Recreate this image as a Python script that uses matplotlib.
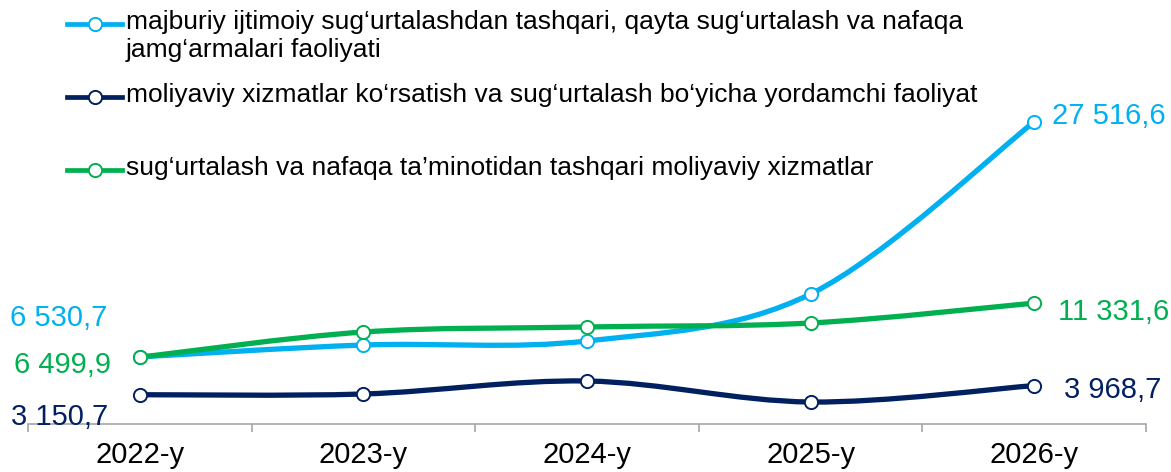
import matplotlib
matplotlib.use("Agg")
import matplotlib.pyplot as plt
from matplotlib.path import Path
from matplotlib.patches import PathPatch
from matplotlib.lines import Line2D

plt.rcParams['font.family'] = ['Liberation Sans', 'DejaVu Sans']

# data
years = ["2022-y", "2023-y", "2024-y", "2025-y", "2026-y"]
majburiy = [6530.7, 7590.0, 7950.0, 12145.0, 27516.6]
yordamchi = [3150.7, 3215.0, 4375.0, 2500.0, 3968.7]
nafaqa = [6499.9, 8750.0, 9200.0, 9555.0, 11331.6]

labels = [
    "majburiy ijtimoiy sug\u2018urtalashdan tashqari, qayta sug\u2018urtalash va nafaqa\njamg\u2018armalari faoliyati",
    "moliyaviy xizmatlar ko\u2018rsatish va sug\u2018urtalash bo\u2018yicha yordamchi faoliyat",
    "sug\u2018urtalash va nafaqa ta\u2019minotidan tashqari moliyaviy xizmatlar",
]
colors = ["#00B0F0", "#002060", "#00B050"]

W, H = 1171, 472


def fmt(v):
    s = f"{v:,.1f}"
    return s.replace(",", " ").replace(".", ",")


def smooth_path(xs, ys):
    # Excel-style smoothed line: cubic bezier through every point
    n = len(xs)
    verts = [(xs[0], ys[0])]
    codes = [Path.MOVETO]
    for i in range(n - 1):
        x0, y0 = (xs[i - 1], ys[i - 1]) if i > 0 else (xs[i], ys[i])
        x3, y3 = (xs[i + 2], ys[i + 2]) if i + 2 < n else (xs[i + 1], ys[i + 1])
        c1 = (xs[i] + (xs[i + 1] - x0) / 6, ys[i] + (ys[i + 1] - y0) / 6)
        c2 = (xs[i + 1] - (x3 - xs[i]) / 6, ys[i + 1] - (y3 - ys[i]) / 6)
        verts += [c1, c2, (xs[i + 1], ys[i + 1])]
        codes += [Path.CURVE4] * 3
    return Path(verts, codes)


fig = plt.figure(figsize=(W / 100, H / 100), dpi=100)
ax = fig.add_axes([28 / W, 48 / H, (1146 - 28) / W, 424 / H])

xs = list(range(len(years)))
for vals, c in zip([majburiy, yordamchi, nafaqa], colors):
    ax.add_patch(PathPatch(smooth_path(xs, vals), facecolor="none", edgecolor=c,
                           lw=3.8, capstyle="round", joinstyle="round"))
    ax.plot(xs, vals, ls="none", marker="o", ms=9.5, mfc="white", mec=c, mew=1.4)

ax.set_xlim(-0.5, len(years) - 0.5)
ax.set_ylim(536, 38400)

for s in ["top", "left", "right"]:
    ax.spines[s].set_visible(False)
ax.spines["bottom"].set_color("#A6A6A6")
ax.spines["bottom"].set_linewidth(1.2)
ax.set_yticks([])
ax.set_xticks(xs)
ax.set_xticklabels(years, fontsize=21)
ax.tick_params(axis="x", which="major", length=0, pad=12)
ax.set_xticks([i - 0.5 for i in range(len(years) + 1)], minor=True)
ax.tick_params(axis="x", which="minor", length=6, width=1.2, color="#A6A6A6", direction="out")

# value labels at both ends
fs = 21
ax.annotate(fmt(majburiy[0]), (0, majburiy[0]), xytext=(-32, 39), textcoords="offset pixels",
            ha="right", va="center", color=colors[0], fontsize=fs)
ax.annotate(fmt(nafaqa[0]), (0, nafaqa[0]), xytext=(-29, -8), textcoords="offset pixels",
            ha="right", va="center", color=colors[2], fontsize=fs)
ax.annotate(fmt(yordamchi[0]), (0, yordamchi[0]), xytext=(-32, -22), textcoords="offset pixels",
            ha="right", va="center", color=colors[1], fontsize=fs)
ax.annotate(fmt(majburiy[-1]), (4, majburiy[-1]), xytext=(18, 6), textcoords="offset pixels",
            ha="left", va="center", color=colors[0], fontsize=fs)
ax.annotate(fmt(nafaqa[-1]), (4, nafaqa[-1]), xytext=(24, -9), textcoords="offset pixels",
            ha="left", va="center", color=colors[2], fontsize=fs)
ax.annotate(fmt(yordamchi[-1]), (4, yordamchi[-1]), xytext=(30, -4), textcoords="offset pixels",
            ha="left", va="center", color=colors[1], fontsize=fs)

# legend drawn by hand (uneven row spacing)
leg_y = [24, 97, 170]
for lab, c, y in zip(labels, colors, leg_y):
    fy = 1 - y / H
    fig.add_artist(Line2D([67 / W, 122 / W], [fy, fy], color=c, lw=3.4, transform=fig.transFigure))
    fig.add_artist(Line2D([95 / W], [fy], ls="none", marker="o", ms=9.5, mfc="white", mec=c,
                          mew=1.4, transform=fig.transFigure))
    fig.text(126 / W, 1 - (y - 14) / H, lab, ha="left", va="top", fontsize=19,
             linespacing=1.22, color="black")

fig.savefig("out.png", dpi=100)
